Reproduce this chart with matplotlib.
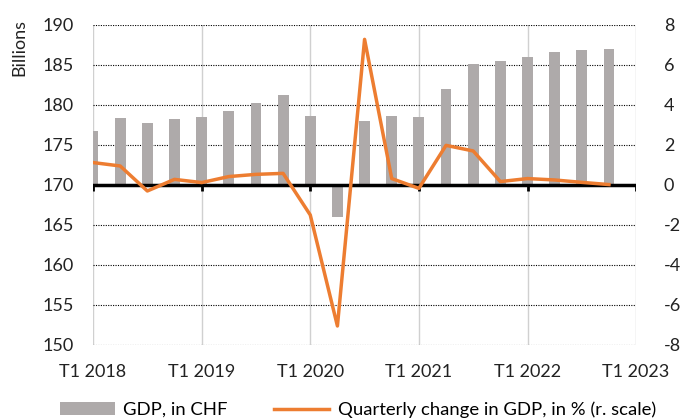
import matplotlib
matplotlib.use("Agg")
import matplotlib.pyplot as plt
import numpy as np

plt.rcParams['font.family'] = ['Lato', 'DejaVu Sans']
plt.rcParams['axes.unicode_minus'] = False

quarters = np.arange(20)  # Q1 2018 .. Q4 2022
gdp = [176.7, 178.4, 177.8, 178.25, 178.5, 179.25, 180.3, 181.3,
       178.6, 166.0, 178.0, 178.6, 178.45, 182.0, 185.1, 185.45,
       186.0, 186.6, 186.9, 187.0]
qchange = [1.12, 0.95, -0.3, 0.28, 0.12, 0.42, 0.53, 0.58,
           -1.5, -7.05, 7.28, 0.32, -0.17, 1.98, 1.7, 0.17,
           0.32, 0.25, 0.13, 0.02]
year_ticks = [2018, 2019, 2020, 2021, 2022, 2023]
year_labels = ["T1 2018", "T1 2019", "T1 2020", "T1 2021", "T1 2022", "T1 2023"]
left_ticks = [150, 155, 160, 165, 170, 175, 180, 185, 190]
right_ticks = [-8, -6, -4, -2, 0, 2, 4, 6, 8]

x = 2018 + quarters / 4.0

fig = plt.figure(figsize=(6.84, 4.2), dpi=100)
ax = fig.add_axes([0.136, 0.1786, 0.794, 0.762])
ax2 = ax.twinx()

ax.set_xlim(2018, 2023)
ax.set_ylim(150, 190)
ax2.set_ylim(-8, 8)

# gridlines
for v in left_ticks:
    ax.axhline(v, color='black', lw=0.8, ls=(0, (1, 1.2)), zorder=1)
for yv in year_ticks:
    ax.axvline(yv, color='#d0d0d0', lw=1.0, zorder=0.5)

ax.bar(x, np.array(gdp) - 170, bottom=170, width=0.1, color='#AEAAAA',
       zorder=2, label='GDP, in CHF')

ax.axhline(170, color='black', lw=2.5, zorder=3)
ax.vlines(year_ticks, 169.3, 170, color='black', lw=2, zorder=3)

ax2.plot(x, qchange, color='#ED7D31', lw=2.5, zorder=4,
         label='Quarterly change in GDP, in % (r. scale)')

for a in (ax, ax2):
    for s in a.spines.values():
        s.set_visible(False)

ax.set_xticks(year_ticks)
ax.set_xticklabels(year_labels)
ax.set_yticks(left_ticks)
ax2.set_yticks(right_ticks)
ax.tick_params(axis='both', length=0, labelsize=13, colors='#222222')
ax.tick_params(axis='x', pad=14)
ax.tick_params(axis='y', pad=14)
ax2.tick_params(axis='y', length=0, labelsize=13, colors='#222222', pad=20)
ax.set_ylabel('Billions', fontsize=13, color='#222222')
ax.yaxis.set_label_coords(-0.12, 0.93)

h1, l1 = ax.get_legend_handles_labels()
h2, l2 = ax2.get_legend_handles_labels()
fig.legend(h1 + h2, l1 + l2, loc='lower center', bbox_to_anchor=(0.523, -0.035),
           ncol=2, frameon=False, fontsize=13.3, handlelength=3.0,
           columnspacing=2.5, handletextpad=0.45)

fig.savefig('out.png', dpi=100)
